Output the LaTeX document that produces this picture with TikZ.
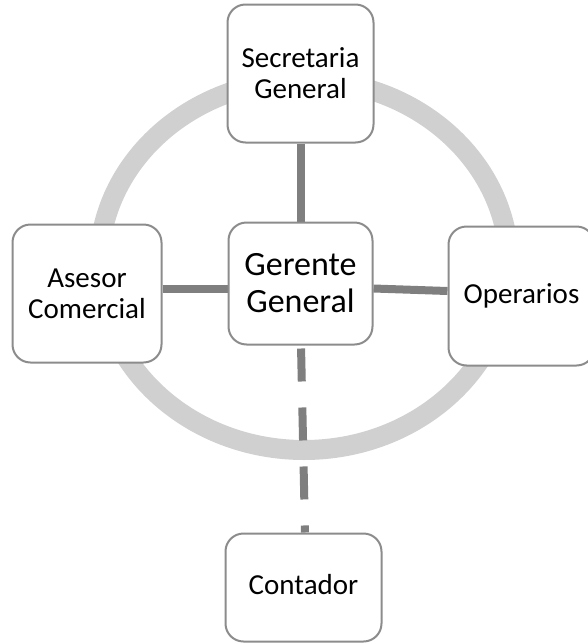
\documentclass[tikz,border=0pt]{standalone}
\usepackage{fontspec}
\setmainfont{Carlito}
\usetikzlibrary{backgrounds}
\definecolor{ringgray}{HTML}{D0D0D0}
\definecolor{linkgray}{HTML}{7F7F7F}
\definecolor{boxgray}{HTML}{8C8C8C}
\begin{document}
\begin{tikzpicture}[x=1pt,y=-1pt,
  orgbox/.style={draw=boxgray, line width=2pt, fill=white, rounded corners=18pt,
    align=center, inner sep=0pt, font=\fontsize{29}{31}\selectfont, text=black},
  link/.style={draw=linkgray, line width=8pt},
  dashlink/.style={link, dash pattern=on 33pt off 26pt, dash phase=56pt}]
\useasboundingbox (0,0) rectangle (587,643);
\node[orgbox, minimum width=146pt, minimum height=138pt] (sec) at (300.5,73.5) {Secretaria\\General};
\node[orgbox, minimum width=144pt, minimum height=122pt, font=\fontsize{34}{37}\selectfont] (ger) at (300.5,283.5) {Gerente\\General};
\node[orgbox, minimum width=149pt, minimum height=138pt] (ase) at (87,293.5) {Asesor\\Comercial};
\node[orgbox, minimum width=146pt, minimum height=139pt] (ope) at (521.5,296) {Operarios};
\node[orgbox, minimum width=156pt, minimum height=108pt] (con) at (303.5,587.5) {\raisebox{7pt}{Contador}};
\begin{scope}[on background layer]
  \draw[ringgray, line width=20pt] (304,265) ellipse [x radius=205, y radius=185];
  \draw[link] (sec.south) -- (ger.north);
  \draw[link] ([yshift=4.5pt]ase.east) -- ([yshift=-5.5pt]ger.west);
  \draw[link] ([yshift=-5pt]ger.east) -- ([yshift=5pt]ope.west);
  \draw[dashlink] ([xshift=0.5pt]ger.south) -- ([xshift=1.5pt]con.north);
\end{scope}
\end{tikzpicture}
\end{document}
